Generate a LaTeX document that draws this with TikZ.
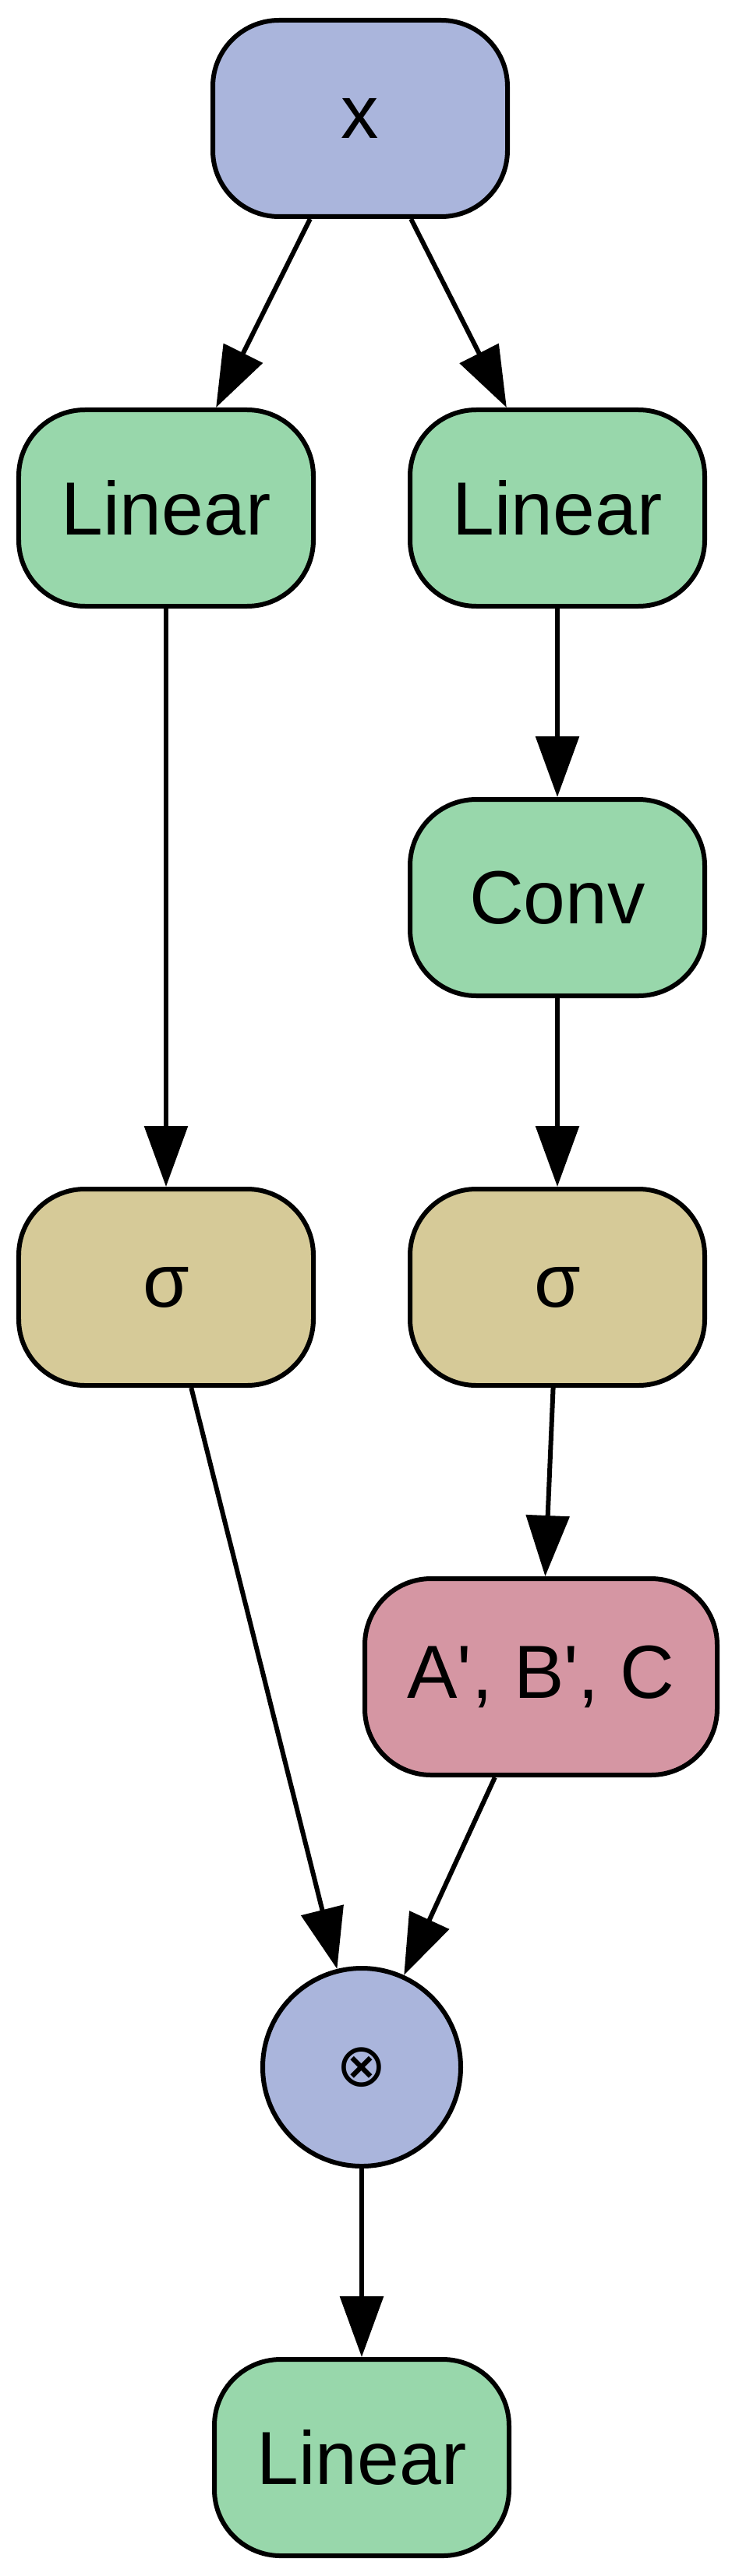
\documentclass[tikz,border=0pt]{standalone}
\usepackage{fontspec}
\setmainfont{Liberation Sans}
\newfontfamily\otimesfont{DejaVu Sans}
\usepackage{tikz}
\usetikzlibrary{arrows.meta, positioning, shapes}
\definecolor{inblue}{RGB}{170,181,220}
\definecolor{opgreen}{RGB}{152,215,171}
\definecolor{acttan}{RGB}{214,202,152}
\definecolor{parpink}{RGB}{213,150,163}
\tikzset{
        ->, % makes the edges directed
        >={Triangle[length=0.78cm,width=0.55cm]}, % big filled heads
        node distance=2.42cm, % gap between two rows
    }
\tikzset{
      color box/.style={
		fill=#1,
		draw=black,
		rounded corners=0.85cm,
		minimum width=3.78cm,
		minimum height=2.52cm,
		font=\fontsize{27.5}{33}\selectfont,
	  },
  		wide box/.style={
    	color box=#1,
    	minimum width=4.52cm,
      },
      op circle/.style={
		circle,
		fill=inblue,
		draw=black,
		minimum size=2.54cm,
		inner sep=0pt,
		font=\otimesfont\fontsize{22}{26}\selectfont,
      }
  	}
\begin{document}
\begin{tikzpicture}[line width=0.06cm]
    \useasboundingbox (0,0) rectangle (9.47,-33.06);
    \node [color box=inblue] (0) at (4.62,-1.52) {x};
    \node [color box=opgreen, below=of 0, xshift=-2.49cm] (1) {Linear};
    \node [color box=opgreen, below=of 0, xshift=2.53cm] (2) {Linear};
    \node [color box=opgreen, below=of 2] (3) {Conv};
    \node [color box=acttan, below=of 3] (4) {σ};
    \node [color box=acttan, below=7.42cm of 1] (5) {σ};
    \node [wide box=parpink, below=of 4, xshift=-0.21cm] (6) {A\textquotesingle, B\textquotesingle, C};
    \node [op circle, below=of 6, xshift=-2.3cm] (7) {⊗};
    \node [color box=opgreen, below=of 7] (8) {Linear};
    % edges
    \draw (0) -- (1);
    \draw (0) -- (2);
    \draw (1) -- (5);
    \draw (2) -- (3);
    \draw (3) -- (4);
    \draw (4) -- (6);
    \draw (5) -- (7);
    \draw (6) -- (7);
    \draw (7) -- (8);
  \end{tikzpicture}
\end{document}
